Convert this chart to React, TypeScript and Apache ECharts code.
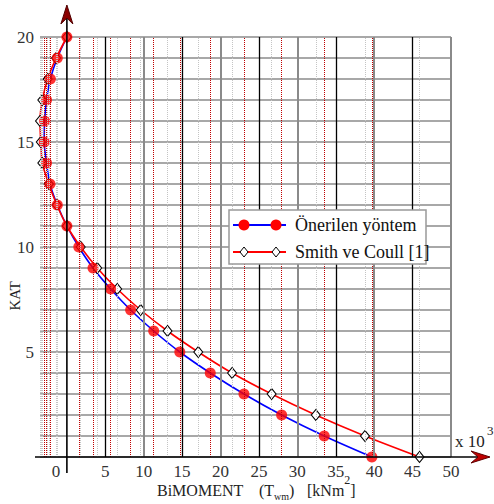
import React, { useEffect, useRef } from 'react';
import * as echarts from 'echarts';

// Floor numbers (KAT)
const floors = [0, 1, 2, 3, 4, 5, 6, 7, 8, 9, 10, 11, 12, 13, 14, 15, 16, 17, 18, 19, 20];
// Bimoment (x 10^3 kNm^2) – proposed method
const onerilen = [39.7, 33.5, 27.95, 23.05, 18.66, 14.7, 11.3, 8.3, 5.7, 3.4, 1.55, 0, -1.25, -2.2, -2.65, -2.95, -2.9, -2.65, -2.15, -1.25, 0];
// Bimoment – Smith & Coull [1]
const smith = [45.9, 38.8, 32.4, 26.65, 21.5, 17.1, 13.1, 9.6, 6.55, 3.95, 1.8, 0, -1.3, -2.35, -3.2, -3.4, -3.5, -3.2, -2.5, -1.4, 0];
// Major vertical grid values
const majorX = [5, 10, 15, 20, 25, 30, 35, 40, 45, 50];
const xMin = -3.5;
const xMax = 50;
const yMin = 0;
const yMax = 20;
const seriesNames = ['Önerilen yöntem', 'Smith ve Coull [1]'];

const SERIF = '"Liberation Serif", "DejaVu Serif", serif';

export default function App() {
  const ref = useRef<HTMLDivElement>(null);
  useEffect(() => {
    const chart = echarts.init(ref.current!, null, { renderer: 'svg' });
    const ptsA = floors.map((f, i) => [onerilen[i], f]);
    const ptsB = floors.map((f, i) => [smith[i], f]);

    const dropLines = [
      ...onerilen.filter((v) => v !== 0).map((v) => ({
        xAxis: v,
        lineStyle: { color: '#c00000', type: 'dotted', width: 1 },
      })),
      ...smith.filter((v) => v !== 0).map((v) => ({
        xAxis: v,
        lineStyle: { color: '#c4c4c4', type: 'dotted', width: 1 },
      })),
    ];
    const majorLines = majorX.map((v) => ({
      xAxis: v,
      lineStyle: v % 10 === 0 ? { color: '#8a8a8a', width: 2, type: 'solid' } : { color: '#000', width: 1.3, type: 'solid' },
    }));

    chart.setOption({
      animation: false,
      grid: { left: 40, right: 43, top: 37, bottom: 47, containLabel: false },
      xAxis: {
        type: 'value',
        min: xMin,
        max: xMax,
        minInterval: 5,
        maxInterval: 5,
        splitNumber: 11,
        axisLine: { show: false },
        axisTick: { show: false },
        splitLine: { show: false },
        axisLabel: {
          fontFamily: SERIF,
          fontSize: 17,
          color: '#333',
          margin: 6,
          formatter: (v: number) => {
            if (v === 0) return '{z|0}';
            if (v > 0 && Math.abs(v % 5) < 1e-9) return String(v);
            return '';
          },
          rich: { z: { fontFamily: SERIF, fontSize: 17, color: '#333', padding: [0, 22, 0, 0] } },
        },
      },
      yAxis: {
        type: 'value',
        min: yMin,
        max: yMax,
        interval: 1,
        axisLine: { show: false },
        axisTick: { show: false },
        splitLine: { show: true, lineStyle: { color: '#a8a8a8', width: 2 } },
        axisLabel: {
          fontFamily: SERIF,
          fontSize: 17,
          color: '#333',
          margin: 6,
          formatter: (v: number) => (v !== 0 && v % 5 === 0 ? String(v) : ''),
        },
      },
      series: [
        {
          type: 'line',
          name: 'drops',
          data: [[0, 0]],
          showSymbol: false,
          lineStyle: { opacity: 0 },
          silent: true,
          z: 1,
          markLine: { silent: true, symbol: 'none', label: { show: false }, data: dropLines },
        },
        {
          type: 'line',
          name: 'major',
          data: [[0, 0]],
          showSymbol: false,
          lineStyle: { opacity: 0 },
          silent: true,
          z: 1,
          markLine: { silent: true, symbol: 'none', label: { show: false }, data: majorLines },
        },
        {
          type: 'line',
          name: seriesNames[0] + ' line',
          data: ptsA,
          smooth: 0.3,
          showSymbol: false,
          clip: false,
          lineStyle: { color: '#0000ff', width: 1.6 },
          z: 2,
        },
        {
          type: 'line',
          name: seriesNames[1],
          data: ptsB,
          smooth: 0.3,
          clip: false,
          symbol: 'diamond',
          symbolSize: [9, 11],
          lineStyle: { color: '#ff0000', width: 1.6 },
          itemStyle: { color: '#ffffff', borderColor: '#000', borderWidth: 1 },
          z: 3,
        },
        {
          type: 'scatter',
          name: seriesNames[0],
          data: ptsA,
          clip: false,
          symbol: 'circle',
          symbolSize: 11,
          itemStyle: { color: '#ff0000' },
          z: 4,
        },
      ],
    });

    const p0 = chart.convertToPixel({ gridIndex: 0 }, [0, 0]) as number[];
    const pR = chart.convertToPixel({ gridIndex: 0 }, [xMax, 0]) as number[];
    const pT = chart.convertToPixel({ gridIndex: 0 }, [0, yMax]) as number[];
    const pL = chart.convertToPixel({ gridIndex: 0 }, [xMin, 0]) as number[];
    const x0 = p0[0];
    const y0 = p0[1];
    const tipX = pR[0] + 39;
    const tipY = pT[1] - 32;

    const lgX = 229, lgY = 210;
    chart.setOption({
      graphic: [
        { type: 'line', z: 50, shape: { x1: pL[0] - 5, y1: y0, x2: tipX - 10, y2: y0 }, style: { stroke: '#000', lineWidth: 1.6 } },
        { type: 'polygon', z: 51, shape: { points: [[tipX, y0], [tipX - 19, y0 - 6], [tipX - 12, y0], [tipX - 19, y0 + 6]] }, style: { fill: '#c00000', stroke: '#600000', lineWidth: 1 } },
        { type: 'line', z: 50, shape: { x1: x0, y1: y0 + 16, x2: x0, y2: tipY + 10 }, style: { stroke: '#000', lineWidth: 1.6 } },
        { type: 'polygon', z: 51, shape: { points: [[x0, tipY], [x0 - 6, tipY + 19], [x0, tipY + 13], [x0 + 6, tipY + 19]] }, style: { fill: '#8b0000', stroke: '#500000', lineWidth: 1 } },
        { type: 'text', z: 50, x: pR[0] + 4, y: y0 - 16, style: { text: 'x 10', font: `17px ${SERIF}`, fill: '#222', textVerticalAlign: 'middle' } },
        { type: 'text', z: 50, x: pR[0] + 36, y: y0 - 27, style: { text: '3', font: `13px ${SERIF}`, fill: '#222', textVerticalAlign: 'middle' } },
        {
          type: 'text', z: 50, x: 157, y: 490,
          style: { text: 'BiMOMENT', font: `16px ${SERIF}`, fill: '#222', textVerticalAlign: 'middle' },
        },
        {
          type: 'text', z: 50, x: 259, y: 490,
          style: {
            text: '(T{s|wm})', font: `16px ${SERIF}`, fill: '#222', textVerticalAlign: 'middle',
            rich: { s: { fontSize: 10, fontFamily: SERIF, fill: '#222', lineHeight: 22, verticalAlign: 'bottom' } },
          },
        },
        {
          type: 'text', z: 50, x: 307, y: 490,
          style: {
            text: '[kNm{p|2}]', font: `16px ${SERIF}`, fill: '#222', textVerticalAlign: 'middle', lineHeight: 32,
            rich: { p: { fontSize: 12, fontFamily: SERIF, fill: '#222', lineHeight: 12, verticalAlign: 'top' } },
          },
        },
        {
          type: 'text', z: 50, x: 15, y: 296, rotation: Math.PI / 2,
          style: { text: 'KAT', font: `15px ${SERIF}`, fill: '#222', textAlign: 'center', textVerticalAlign: 'middle' },
        },
        // legend
        { type: 'rect', z: 60, shape: { x: lgX, y: lgY, width: 197, height: 54 }, style: { fill: '#fff', stroke: '#999', lineWidth: 1.5 } },
        { type: 'line', z: 61, shape: { x1: lgX + 4, y1: lgY + 15, x2: lgX + 57, y2: lgY + 15 }, style: { stroke: '#0000ff', lineWidth: 2 } },
        { type: 'circle', z: 62, shape: { cx: lgX + 15, cy: lgY + 15, r: 5.5 }, style: { fill: '#ff0000' } },
        { type: 'circle', z: 62, shape: { cx: lgX + 47, cy: lgY + 15, r: 5.5 }, style: { fill: '#ff0000' } },
        { type: 'text', z: 62, x: lgX + 66, y: lgY + 15, style: { text: seriesNames[0], font: `18px ${SERIF}`, fill: '#111', textVerticalAlign: 'middle' } },
        { type: 'line', z: 61, shape: { x1: lgX + 4, y1: lgY + 42, x2: lgX + 57, y2: lgY + 42 }, style: { stroke: '#ff0000', lineWidth: 2 } },
        { type: 'polygon', z: 62, shape: { points: [[lgX + 15, lgY + 37], [lgX + 19, lgY + 42], [lgX + 15, lgY + 47], [lgX + 11, lgY + 42]] }, style: { fill: '#fff', stroke: '#000', lineWidth: 1 } },
        { type: 'polygon', z: 62, shape: { points: [[lgX + 47, lgY + 37], [lgX + 51, lgY + 42], [lgX + 47, lgY + 47], [lgX + 43, lgY + 42]] }, style: { fill: '#fff', stroke: '#000', lineWidth: 1 } },
        { type: 'text', z: 62, x: lgX + 66, y: lgY + 42, style: { text: seriesNames[1], font: `18px ${SERIF}`, fill: '#111', textVerticalAlign: 'middle' } },
      ],
    });

    return () => chart.dispose();
  }, []);
  return <div ref={ref} style={{ width: 494, height: 504, position: 'absolute', left: 0, top: 0 }} />;
}
